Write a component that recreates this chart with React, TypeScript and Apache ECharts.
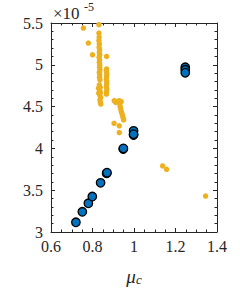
import React, { useEffect, useRef } from "react";
import * as echarts from "echarts";

const xTicks = [0.6, 0.8, 1, 1.2, 1.4];
const yTicks = [3, 3.5, 4, 4.5, 5, 5.5];

const orangePoints: [number, number][] = [
  [0.756, 5.44], [0.831, 5.48], [0.78, 5.26], [0.8, 5.12], [0.868, 5.1],
  [0.831, 5.38], [0.832, 5.33], [0.831, 5.29], [0.833, 5.25], [0.832, 5.21],
  [0.834, 5.18], [0.833, 5.15], [0.835, 5.12], [0.832, 5.09], [0.834, 5.06],
  [0.833, 5.03], [0.835, 5.0], [0.834, 4.97], [0.836, 4.94], [0.833, 4.91],
  [0.835, 4.88], [0.834, 4.85], [0.836, 4.82], [0.833, 4.76], [0.837, 4.73],
  [0.834, 4.7], [0.838, 4.67], [0.835, 4.64], [0.839, 4.61], [0.836, 4.58],
  [0.838, 4.55], [0.84, 4.53], [0.83, 4.66], [0.829, 4.72],
  [0.868, 4.95], [0.867, 4.92], [0.869, 4.89], [0.868, 4.86], [0.867, 4.83],
  [0.869, 4.8], [0.868, 4.77], [0.867, 4.74], [0.869, 4.71], [0.868, 4.68],
  [0.867, 4.65],
  [0.905, 4.57], [0.912, 4.55], [0.928, 4.57], [0.938, 4.56], [0.932, 4.52],
  [0.934, 4.49], [0.937, 4.46], [0.94, 4.43], [0.944, 4.4], [0.947, 4.37],
  [0.95, 4.34],
  [0.904, 4.3], [0.929, 4.27], [0.929, 4.19], [1.002, 4.15],
  [1.138, 3.79], [1.157, 3.75], [1.345, 3.43],
];

const bluePoints: [number, number][] = [
  [0.72, 3.116], [0.751, 3.242], [0.78, 3.343], [0.799, 3.424], [0.839, 3.588],
  [0.868, 3.703], [0.87, 3.71], [0.948, 3.993], [0.949, 4.0],
  [0.998, 4.16], [0.998, 4.21], [0.998, 4.17],
  [1.247, 4.97], [1.247, 4.94], [1.247, 4.905],
];

const axisColor = "#262626";
const fam = "'Liberation Serif', 'Times New Roman', serif";

export default function App() {
  const ref = useRef<HTMLDivElement>(null);
  useEffect(() => {
    document.body.style.margin = "0";
    const chart = echarts.init(ref.current!, null, { renderer: "svg" });
    const xMin = xTicks[0];
    const xMax = xTicks[xTicks.length - 1];
    const yMin = yTicks[0];
    const yMax = yTicks[yTicks.length - 1];
    const common = {
      axisLine: { show: true, lineStyle: { color: axisColor, width: 1 } },
      axisTick: { show: true, inside: true, length: 4, lineStyle: { color: axisColor } },
      minorTick: { show: true, length: 2.5, lineStyle: { color: axisColor } },
      splitLine: { show: false },
    };
    const xBase = {
      type: "value",
      min: xMin,
      max: xMax,
      interval: 0.2,
      ...common,
      minorTick: { ...common.minorTick, splitNumber: 4 },
    };
    const yBase = {
      type: "value",
      min: yMin,
      max: yMax,
      interval: 0.5,
      ...common,
      minorTick: { ...common.minorTick, splitNumber: 5 },
    };
    chart.setOption({
      animation: false,
      textStyle: { fontFamily: fam },
      grid: { left: 51, right: 23, top: 23, bottom: 44, containLabel: false },
      xAxis: [
        {
          ...xBase,
          position: "bottom",
          axisLabel: {
            color: axisColor,
            fontFamily: fam,
            fontSize: 16,
            margin: 6,
            formatter: (v: number) => String(Math.round(v * 10) / 10),
          },
          name: "{mu|μ}{sub|c}",
          nameLocation: "middle",
          nameGap: 34,
          nameTextStyle: {
            fontFamily: fam,
            rich: {
              mu: { fontFamily: fam, fontStyle: "italic", fontSize: 19, color: axisColor },
              sub: { fontFamily: fam, fontStyle: "italic", fontSize: 13, color: axisColor, padding: [7, 0, 0, 0] },
            },
          },
        },
        { ...xBase, position: "top", axisLabel: { show: false } },
      ],
      yAxis: [
        {
          ...yBase,
          position: "left",
          axisLabel: {
            color: axisColor,
            fontFamily: fam,
            fontSize: 16,
            margin: 8,
            formatter: (v: number) => String(Math.round(v * 10) / 10),
          },
        },
        { ...yBase, position: "right", axisLabel: { show: false } },
      ],
      graphic: [
        {
          type: "text",
          x: 53,
          y: 5,
          style: { text: "×10", font: "17px " + fam, fill: axisColor, textBaseline: "top" },
        },
        {
          type: "text",
          x: 84,
          y: 1,
          style: { text: "-5", font: "12px " + fam, fill: axisColor, textBaseline: "top" },
        },
      ],
      series: [
        {
          type: "scatter",
          data: orangePoints,
          symbolSize: 5.5,
          itemStyle: { color: "#EDB120", opacity: 1 },
        },
        {
          type: "scatter",
          data: bluePoints,
          symbolSize: 8.5,
          itemStyle: { color: "#0072BD", borderColor: "#000", borderWidth: 1.3, opacity: 1 },
        },
      ],
    });
    return () => chart.dispose();
  }, []);
  return <div ref={ref} style={{ width: 240, height: 291 }} />;
}
